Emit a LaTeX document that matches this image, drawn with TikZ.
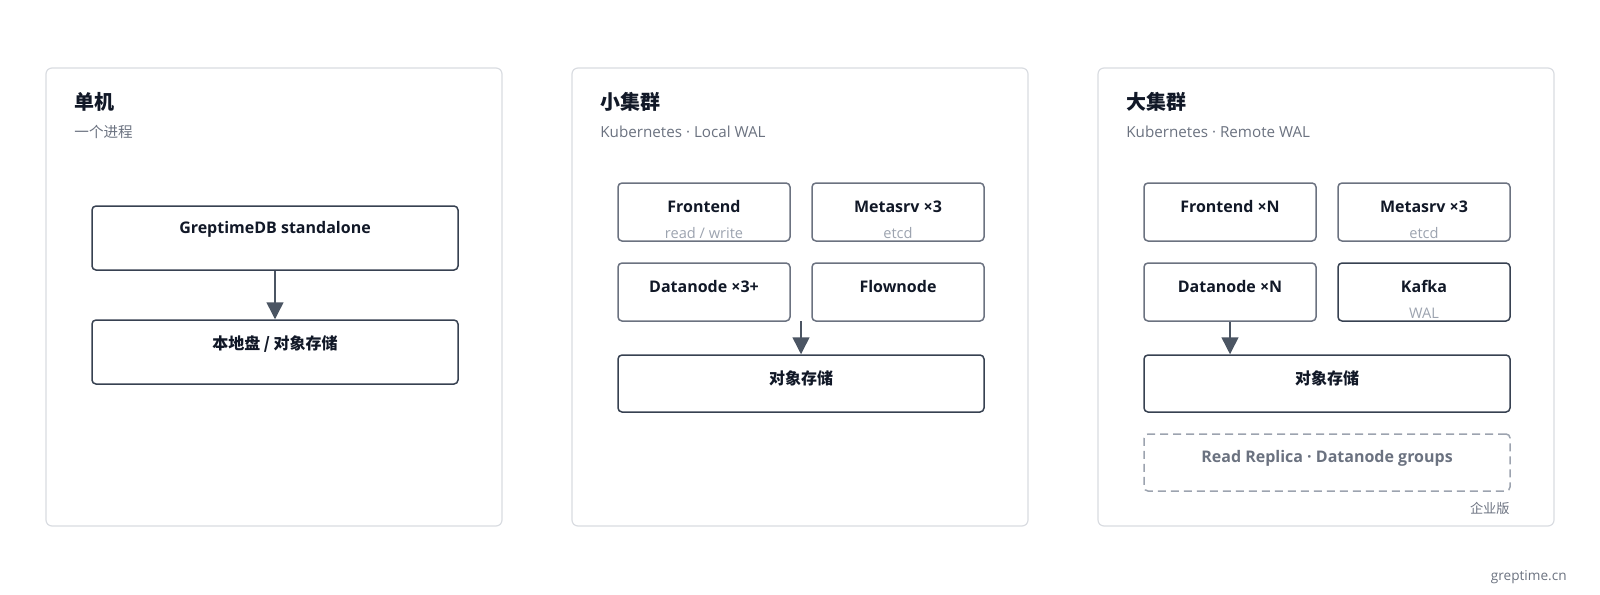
\documentclass[tikz,border=0pt]{standalone}
\usepackage{fontspec}
\setmainfont{Open Sans}
\newfontfamily\cjk{Noto Sans CJK SC}
\usetikzlibrary{arrows.meta}

\definecolor{ink}{HTML}{111827}
\definecolor{mute}{HTML}{6B7280}
\definecolor{faint}{HTML}{9CA3AF}
\definecolor{edgegray}{HTML}{6B7280}
\definecolor{edgedark}{HTML}{374151}
\definecolor{framegray}{HTML}{D9DCE1}
\definecolor{arrowgray}{HTML}{4B5563}

\begin{document}
\begin{tikzpicture}[x=0.5pt, y=-0.5pt,
    panel/.style={draw=framegray, line width=0.6pt, rounded corners=3pt, inner sep=0pt,
        minimum width=228pt, minimum height=229pt},
    title/.style={anchor=west, inner sep=0pt, text=ink, font=\cjk\bfseries\fontsize{10}{12}\selectfont},
    subtitle/.style={anchor=west, inner sep=0pt, text=mute, font=\fontsize{7.6}{9}\selectfont},
    box/.style={draw=edgegray, line width=0.75pt, rounded corners=2pt, inner sep=0pt,
        minimum width=86pt, minimum height=29pt},
    widebox/.style={box, draw=edgedark, minimum width=183pt, minimum height=32pt},
    storebox/.style={widebox, minimum height=28.5pt},
    replicabox/.style={widebox, draw=faint, dash pattern=on 4pt off 2.5pt, minimum height=28.5pt},
    lbl/.style={inner sep=0pt, text=ink, font=\bfseries\fontsize{8}{10}\selectfont},
    sublbl/.style={inner sep=0pt, text=faint, font=\fontsize{7.3}{9}\selectfont},
    note/.style={anchor=east, inner sep=0pt, text=mute, font=\fontsize{6.8}{8}\selectfont},
    arr/.style={draw=arrowgray, line width=0.75pt, -{Triangle[width=8.5pt,length=8.5pt]}}
]
    \useasboundingbox (0,0) rectangle (1600,594);

    % Panels
    \node[panel] (p1) at (274,297) {};
    \node[panel] (p2) at (800,297) {};
    \node[panel] (p3) at (1326,297) {};

    % Standalone
    \node[title] (t1) at (74,102) {单机};
    \node[subtitle, font=\cjk\fontsize{7.3}{9}\selectfont] (s1) at (74,132) {一个进程};

    \node[widebox] (gsa) at (275,238) {};
    \node[lbl] (gsal) at (275,229.5) {GreptimeDB standalone};
    \node[widebox] (st1) at (275,352) {};
    \node[lbl] (st1l) at (275,344) {{\cjk 本地盘 / 对象存储}};

    \draw[arr] (gsa) -- (st1);

    % Small cluster
    \node[title] (t2) at (600,102) {小集群};
    \node[subtitle] (s2) at (600,132) {Kubernetes · Local WAL};

    \node[box] (fe2) at (704,212) {};
    \node[lbl] (fe2l) at (704,206.5) {Frontend};
    \node[sublbl] (fe2s) at (704,233) {read / write};
    \node[box] (ms2) at (898,212) {};
    \node[lbl] (ms2l) at (898,206.5) {Metasrv ×3};
    \node[sublbl] (ms2s) at (898,233) {etcd};
    \node[box] (dn2) at (704,292) {};
    \node[lbl] (dn2l) at (704,286.5) {Datanode ×3+};
    \node[box] (fn2) at (898,292) {};
    \node[lbl] (fn2l) at (898,286.5) {Flownode};
    \node[storebox] (obj2) at (801,383.5) {};
    \node[lbl] (obj2l) at (801,378) {{\cjk 对象存储}};

    \coordinate (gap2) at (801,321);
    \draw[arr] (gap2) -- (gap2 |- obj2.north);

    % Large cluster
    \node[title] (t3) at (1126,102) {大集群};
    \node[subtitle] (s3) at (1126,132) {Kubernetes · Remote WAL};

    \node[box] (fe3) at (1230,212) {};
    \node[lbl] (fe3l) at (1230,206.5) {Frontend ×N};
    \node[box] (ms3) at (1424,212) {};
    \node[lbl] (ms3l) at (1424,206.5) {Metasrv ×3};
    \node[sublbl] (ms3s) at (1424,233) {etcd};
    \node[box] (dn3) at (1230,292) {};
    \node[lbl] (dn3l) at (1230,286.5) {Datanode ×N};
    \node[box, draw=edgedark] (kf3) at (1424,292) {};
    \node[lbl] (kf3l) at (1424,286.5) {Kafka};
    \node[sublbl] (kf3s) at (1424,313) {WAL};
    \node[storebox] (obj3) at (1327,383.5) {};
    \node[lbl] (obj3l) at (1327,378) {{\cjk 对象存储}};
    \node[replicabox] (rr3) at (1327,462.5) {};
    \node[lbl, text=mute] (rr3l) at (1327,458) {Read Replica · Datanode groups};
    \node[note, font=\cjk\fontsize{6.6}{8}\selectfont] (ent3) at (1510,508) {企业版};

    \draw[arr] (dn3.south) -- (dn3.south |- obj3.north);

    % Footer
    \node[note] (site) at (1567,577) {greptime.cn};
\end{tikzpicture}
\end{document}
